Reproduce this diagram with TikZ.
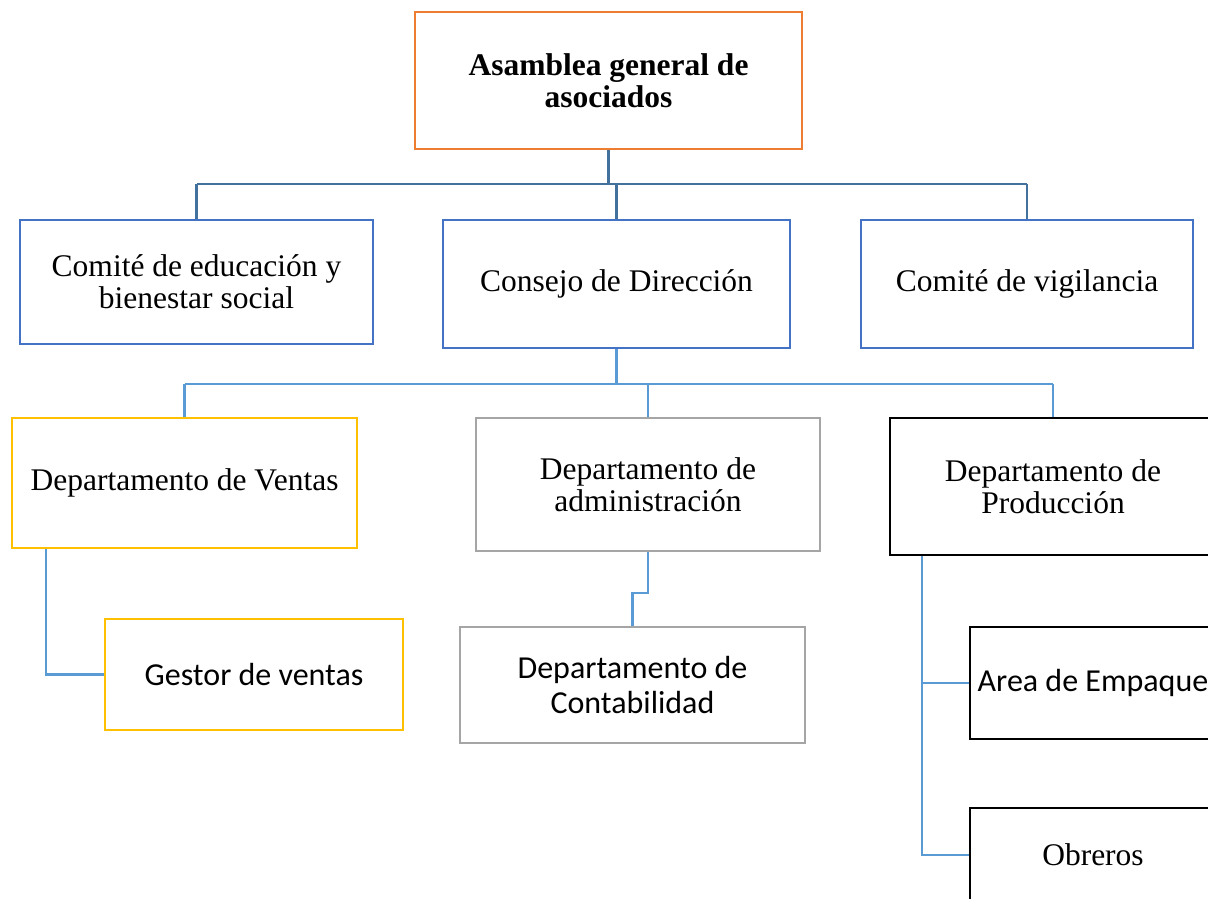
\documentclass[tikz,border=0pt]{standalone}
\usepackage{fontspec}
\setmainfont{Liberation Serif}
\newfontfamily\calibrifont{Carlito}
\definecolor{borange}{HTML}{ED7D31}
\definecolor{bblue}{HTML}{4472C4}
\definecolor{byellow}{HTML}{FFC000}
\definecolor{bgray}{HTML}{A5A5A5}
\definecolor{conncol}{HTML}{5B9BD5}
\definecolor{conntop}{HTML}{41719C}
\tikzset{
  orgbox/.style={draw, line width=2.5pt, inner sep=0pt, align=center, fill=white,
    font=\fontsize{31.5}{32}\selectfont},
  sansbox/.style={orgbox, font=\calibrifont\fontsize{32}{35}\selectfont},
  conn/.style={draw=conncol, line width=2.2pt},
  conntopst/.style={draw=conntop, line width=2.5pt}
}
\begin{document}
\begin{tikzpicture}[x=1pt,y=-1pt]
\useasboundingbox (0,0) rectangle (1208,899);
\clip (0,0) rectangle (1208,899);
\coordinate (bus1) at (0,184);
\coordinate (bus2) at (0,384);
% level 0
\node[orgbox, draw=borange, minimum width=387pt, minimum height=137pt, font=\bfseries\fontsize{31.5}{32}\selectfont] (asam) at (608.5,80.5) {Asamblea general de\\asociados};
% level 1
\node[orgbox, draw=bblue, minimum width=353pt, minimum height=124pt] (edu) at (196.5,282) {Comité de educación y\\bienestar social};
\node[orgbox, draw=bblue, minimum width=347pt, minimum height=128pt] (cons) at (616.5,284) {Consejo de Dirección};
\node[orgbox, draw=bblue, minimum width=332pt, minimum height=128pt] (vig) at (1027,284) {Comité de vigilancia};
% level 2
\node[orgbox, draw=byellow, minimum width=345pt, minimum height=130pt] (ven) at (184.5,483) {Departamento de Ventas};
\node[orgbox, draw=bgray, minimum width=344pt, minimum height=133pt] (adm) at (648,484.5) {Departamento de\\administración};
\node[orgbox, draw=black, minimum width=326pt, minimum height=137pt] (prod) at (1053,486.5) {Departamento de\\Producción};
% level 3
\node[sansbox, draw=byellow, minimum width=298pt, minimum height=111pt] (gest) at (254,674.5) {Gestor de ventas};
\node[sansbox, draw=bgray, minimum width=345pt, minimum height=116pt] (cont) at (632.5,685) {Departamento de\\Contabilidad};
\node[sansbox, draw=black, minimum width=246pt, minimum height=112pt] (area) at (1093,683) {Area de Empaque};
\node[orgbox, draw=black, minimum width=246pt, minimum height=94pt] (obr) at (1093,855) {Obreros};
% connectors level 0-1
\draw[conntopst] (asam.south) -- (asam.south |- bus1);
\draw[conntopst] (edu.north |- bus1) -- (vig.north |- bus1);
\draw[conntopst] (edu.north |- bus1) -- (edu.north);
\draw[conntopst] (cons.north |- bus1) -- (cons.north);
\draw[conntopst] (vig.north |- bus1) -- (vig.north);
% connectors level 1-2
\draw[conn, line width=2.6pt] (cons.south) -- (cons.south |- bus2);
\draw[conn] (ven.north |- bus2) -- (prod.north |- bus2);
\draw[conn] (ven.north |- bus2) -- (ven.north);
\draw[conn] (adm.north |- bus2) -- (adm.north);
\draw[conn] (prod.north |- bus2) -- (prod.north);
% connectors level 2-3
\draw[conn] ([xshift=35pt]ven.south west) |- (gest.west);
\draw[conn] (adm.south) -- ++(0,41) -| (cont.north);
\draw[conn] ([xshift=33pt]prod.south west) |- (obr.west);
\draw[conn] ([xshift=33pt]prod.south west |- area.west) -- (area.west);
\end{tikzpicture}
\end{document}
